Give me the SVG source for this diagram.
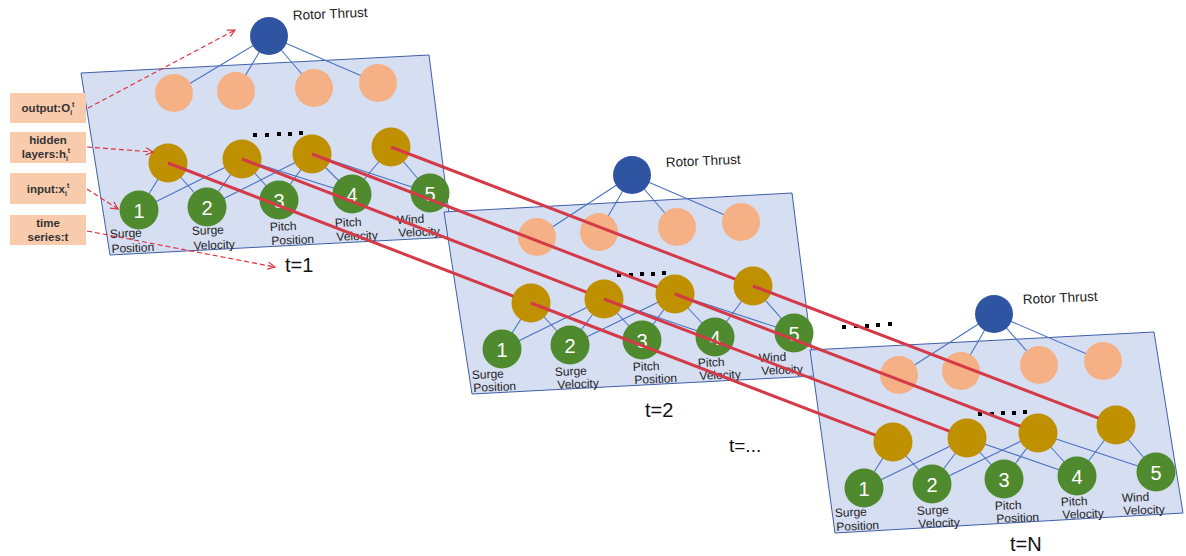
<svg xmlns="http://www.w3.org/2000/svg" width="1186" height="556" viewBox="0 0 1186 556">
<style>
.panel{fill:#D6DEF2;stroke:#3F5FA8;stroke-width:1}
.wl{stroke:#4A72C2;stroke-width:1.1;fill:none}
.blue{fill:#2F55A2}
.org{fill:#F5B185}
.gold{fill:#BF9000}
.grn{fill:#4F8A2E}
.num{font-family:"Liberation Sans",Arial,sans-serif;font-size:20px;fill:#fff;text-anchor:middle;dominant-baseline:central}
.lbl{font-family:"Liberation Sans",Arial,sans-serif;font-size:12px;fill:#222}
.rt{font-family:"Liberation Sans",Arial,sans-serif;font-size:13.5px;fill:#222}
.tl{font-family:"Liberation Sans",Arial,sans-serif;font-size:20px;fill:#111}
.box{fill:#F8CBAD}
.bt{font-family:"Liberation Sans",Arial,sans-serif;font-size:11.5px;font-weight:bold;fill:#333;text-anchor:middle}
.red{stroke:#D43A48;stroke-width:3;fill:none}
.dash{stroke:#E0303A;stroke-width:1.2;stroke-dasharray:5 3;fill:none;marker-end:url(#ah)}
.dot{fill:#000}
</style>
<defs>
<marker id="ah" viewBox="0 0 10 10" refX="9" refY="5" markerWidth="9" markerHeight="9" markerUnits="userSpaceOnUse" orient="auto">
<path d="M1,1 L9,5 L1,9" fill="none" stroke="#E0303A" stroke-width="1.3"/>
</marker>
</defs>

<!-- Panel 1 -->
<g id="panel1">
<polygon class="panel" points="81,73 429,55 452,237 110,255"/>
<g class="wl">
<line x1="269" y1="36" x2="174" y2="93"/><line x1="269" y1="36" x2="236" y2="91"/><line x1="269" y1="36" x2="314" y2="88"/><line x1="269" y1="36" x2="378" y2="83"/>
<line x1="168" y1="163" x2="139" y2="210"/><line x1="168" y1="163" x2="207" y2="207"/>
<line x1="139" y1="210" x2="242" y2="159"/><line x1="242" y1="159" x2="207" y2="207"/><line x1="242" y1="159" x2="279" y2="200"/><line x1="242" y1="159" x2="352" y2="194"/>
<line x1="207" y1="207" x2="312" y2="154"/><line x1="312" y1="154" x2="279" y2="200"/><line x1="312" y1="154" x2="352" y2="194"/><line x1="312" y1="154" x2="430" y2="193"/>
<line x1="391" y1="147" x2="352" y2="194"/><line x1="391" y1="147" x2="430" y2="193"/>
</g>
<g id="p1-out"><circle class="blue" cx="269" cy="36" r="19"/><text class="rt" x="293" y="20" transform="rotate(-2.5 293 20)">Rotor Thrust</text></g>
<g id="p1-o1"><circle class="org" cx="174" cy="93" r="19"/></g>
<g id="p1-o2"><circle class="org" cx="236" cy="91" r="19"/></g>
<g id="p1-o3"><circle class="org" cx="314" cy="88" r="19"/></g>
<g id="p1-o4"><circle class="org" cx="378" cy="83" r="19"/></g>
<g id="p1-dots" class="dot"><rect x="253" y="133" width="4" height="4"/><rect x="265" y="133" width="4" height="4"/><rect x="277" y="132" width="4" height="4"/><rect x="288" y="132" width="4" height="4"/><rect x="299" y="131" width="4" height="4"/></g>
<g id="p1-h1"><circle class="gold" cx="168" cy="163" r="19.5"/></g>
<g id="p1-h2"><circle class="gold" cx="242" cy="159" r="19.5"/></g>
<g id="p1-h3"><circle class="gold" cx="312" cy="154" r="19.5"/></g>
<g id="p1-h4"><circle class="gold" cx="391" cy="147" r="19.5"/></g>
<g id="p1-i1"><circle class="grn" cx="139" cy="210" r="19.5"/><text class="num" x="139" y="211">1</text><text class="lbl" transform="rotate(-2.5 110 238)"><tspan x="110" y="238">Surge</tspan><tspan x="111" y="253">Position</tspan></text></g>
<g id="p1-i2"><circle class="grn" cx="207" cy="207" r="19.5"/><text class="num" x="207" y="208">2</text><text class="lbl" transform="rotate(-2.5 192 235)"><tspan x="192" y="235">Surge</tspan><tspan x="193" y="250">Velocity</tspan></text></g>
<g id="p1-i3"><circle class="grn" cx="279" cy="200" r="19.5"/><text class="num" x="279" y="201">3</text><text class="lbl" transform="rotate(-2.5 270 231)"><tspan x="270" y="231">Pitch</tspan><tspan x="271" y="245">Position</tspan></text></g>
<g id="p1-i4"><circle class="grn" cx="352" cy="194" r="19.5"/><text class="num" x="352" y="195">4</text><text class="lbl" transform="rotate(-2.5 335 227)"><tspan x="335" y="227">Pitch</tspan><tspan x="336" y="241">Velocity</tspan></text></g>
<g id="p1-i5"><circle class="grn" cx="430" cy="193" r="19.5"/><text class="num" x="430" y="194">5</text><text class="lbl" transform="rotate(-2.5 397 224)"><tspan x="397" y="224">Wind</tspan><tspan x="398" y="237">Velocity</tspan></text></g>
<text id="t1" class="tl" x="285" y="272">t=1</text>
</g>

<!-- Panel 2 -->
<g id="panel2">
<polygon class="panel" points="444,212 792,193 815,376 472,394"/>
<g class="wl">
<line x1="632" y1="175" x2="537" y2="237"/><line x1="632" y1="175" x2="599" y2="232"/><line x1="632" y1="175" x2="677" y2="227"/><line x1="632" y1="175" x2="741" y2="222"/>
<line x1="531" y1="303" x2="502" y2="349"/><line x1="531" y1="303" x2="570" y2="345"/>
<line x1="502" y1="349" x2="604" y2="299"/><line x1="604" y1="299" x2="570" y2="345"/><line x1="604" y1="299" x2="642" y2="340"/><line x1="604" y1="299" x2="715" y2="337"/>
<line x1="570" y1="345" x2="675" y2="294"/><line x1="675" y1="294" x2="642" y2="340"/><line x1="675" y1="294" x2="715" y2="337"/><line x1="675" y1="294" x2="794" y2="333"/>
<line x1="753" y1="286" x2="715" y2="337"/><line x1="753" y1="286" x2="794" y2="333"/>
</g>
<g id="p2-out"><circle class="blue" cx="632" cy="175" r="19"/><text class="rt" x="666" y="167" transform="rotate(-2.5 666 167)">Rotor Thrust</text></g>
<g id="p2-o1"><circle class="org" cx="537" cy="237" r="19"/></g>
<g id="p2-o2"><circle class="org" cx="599" cy="232" r="19"/></g>
<g id="p2-o3"><circle class="org" cx="677" cy="227" r="19"/></g>
<g id="p2-o4"><circle class="org" cx="741" cy="222" r="19"/></g>
<g id="p2-dots" class="dot"><rect x="617" y="273" width="4" height="4"/><rect x="629" y="273" width="4" height="4"/><rect x="640" y="272" width="4" height="4"/><rect x="651" y="272" width="4" height="4"/><rect x="662" y="271" width="4" height="4"/></g>
<g id="p2-h1"><circle class="gold" cx="531" cy="303" r="19.5"/></g>
<g id="p2-h2"><circle class="gold" cx="604" cy="299" r="19.5"/></g>
<g id="p2-h3"><circle class="gold" cx="675" cy="294" r="19.5"/></g>
<g id="p2-h4"><circle class="gold" cx="753" cy="286" r="19.5"/></g>
<g id="p2-i1"><circle class="grn" cx="502" cy="349" r="19.5"/><text class="num" x="502" y="350">1</text><text class="lbl" transform="rotate(-2.5 472 379)"><tspan x="472" y="379">Surge</tspan><tspan x="473" y="392">Position</tspan></text></g>
<g id="p2-i2"><circle class="grn" cx="570" cy="345" r="19.5"/><text class="num" x="570" y="346">2</text><text class="lbl" transform="rotate(-2.5 555 376)"><tspan x="555" y="376">Surge</tspan><tspan x="557" y="389">Velocity</tspan></text></g>
<g id="p2-i3"><circle class="grn" cx="642" cy="340" r="19.5"/><text class="num" x="642" y="341">3</text><text class="lbl" transform="rotate(-2.5 633 371)"><tspan x="633" y="371">Pitch</tspan><tspan x="634" y="384">Position</tspan></text></g>
<g id="p2-i4"><circle class="grn" cx="715" cy="337" r="19.5"/><text class="num" x="715" y="338">4</text><text class="lbl" transform="rotate(-2.5 698 367)"><tspan x="698" y="367">Pitch</tspan><tspan x="699" y="380">Velocity</tspan></text></g>
<g id="p2-i5"><circle class="grn" cx="794" cy="333" r="19.5"/><text class="num" x="794" y="334">5</text><text class="lbl" transform="rotate(-2.5 759 362)"><tspan x="759" y="362">Wind</tspan><tspan x="761" y="375">Velocity</tspan></text></g>
<text id="t2" class="tl" x="645" y="417">t=2</text>
</g>

<text id="tdots" class="tl" x="729" y="452" style="font-size:19px">t=...</text>
<g id="gap-dots" class="dot"><rect x="842" y="325" width="4" height="4"/><rect x="854" y="324" width="4" height="4"/><rect x="865" y="324" width="4" height="4"/><rect x="876" y="323" width="4" height="4"/><rect x="888" y="322" width="4" height="4"/></g>

<!-- Panel 3 -->
<g id="panel3">
<polygon class="panel" points="810,350 1154,332 1183,513 835,533"/>
<g class="wl">
<line x1="994" y1="314" x2="899" y2="375"/><line x1="994" y1="314" x2="961" y2="371"/><line x1="994" y1="314" x2="1039" y2="365"/><line x1="994" y1="314" x2="1103" y2="361"/>
<line x1="893" y1="442" x2="864" y2="488"/><line x1="893" y1="442" x2="932" y2="484"/>
<line x1="864" y1="488" x2="967" y2="438"/><line x1="967" y1="438" x2="932" y2="484"/><line x1="967" y1="438" x2="1004" y2="479"/><line x1="967" y1="438" x2="1077" y2="476"/>
<line x1="932" y1="484" x2="1038" y2="433"/><line x1="1038" y1="433" x2="1004" y2="479"/><line x1="1038" y1="433" x2="1077" y2="476"/><line x1="1038" y1="433" x2="1156" y2="472"/>
<line x1="1116" y1="425" x2="1077" y2="476"/><line x1="1116" y1="425" x2="1156" y2="472"/>
</g>
<g id="p3-out"><circle class="blue" cx="994" cy="314" r="19"/><text class="rt" x="1023" y="304" transform="rotate(-2.5 1023 304)">Rotor Thrust</text></g>
<g id="p3-o1"><circle class="org" cx="899" cy="375" r="19"/></g>
<g id="p3-o2"><circle class="org" cx="961" cy="371" r="19"/></g>
<g id="p3-o3"><circle class="org" cx="1039" cy="365" r="19"/></g>
<g id="p3-o4"><circle class="org" cx="1103" cy="361" r="19"/></g>
<g id="p3-dots" class="dot"><rect x="978" y="412" width="4" height="4"/><rect x="990" y="412" width="4" height="4"/><rect x="1001" y="411" width="4" height="4"/><rect x="1012" y="411" width="4" height="4"/><rect x="1023" y="410" width="4" height="4"/></g>
<g id="p3-h1"><circle class="gold" cx="893" cy="442" r="19.5"/></g>
<g id="p3-h2"><circle class="gold" cx="967" cy="438" r="19.5"/></g>
<g id="p3-h3"><circle class="gold" cx="1038" cy="433" r="19.5"/></g>
<g id="p3-h4"><circle class="gold" cx="1116" cy="425" r="19.5"/></g>
<g id="p3-i1"><circle class="grn" cx="864" cy="488" r="19.5"/><text class="num" x="864" y="489">1</text><text class="lbl" transform="rotate(-2.5 835 517)"><tspan x="835" y="517">Surge</tspan><tspan x="836" y="531">Position</tspan></text></g>
<g id="p3-i2"><circle class="grn" cx="932" cy="484" r="19.5"/><text class="num" x="932" y="485">2</text><text class="lbl" transform="rotate(-2.5 917 515)"><tspan x="917" y="515">Surge</tspan><tspan x="918" y="528">Velocity</tspan></text></g>
<g id="p3-i3"><circle class="grn" cx="1004" cy="479" r="19.5"/><text class="num" x="1004" y="480">3</text><text class="lbl" transform="rotate(-2.5 995 510)"><tspan x="995" y="510">Pitch</tspan><tspan x="996" y="523">Position</tspan></text></g>
<g id="p3-i4"><circle class="grn" cx="1077" cy="476" r="19.5"/><text class="num" x="1077" y="477">4</text><text class="lbl" transform="rotate(-2.5 1061 506)"><tspan x="1061" y="506">Pitch</tspan><tspan x="1062" y="519">Velocity</tspan></text></g>
<g id="p3-i5"><circle class="grn" cx="1156" cy="472" r="19.5"/><text class="num" x="1156" y="473">5</text><text class="lbl" transform="rotate(-2.5 1122 502)"><tspan x="1122" y="502">Wind</tspan><tspan x="1123" y="515">Velocity</tspan></text></g>
<text id="tN" class="tl" x="1010" y="551">t=N</text>
</g>

<!-- Legend boxes -->
<g id="lg-output"><rect class="box" x="10" y="93" width="76" height="30"/><text class="bt" x="48" y="112">output:O<tspan dy="3" font-size="7">i</tspan><tspan dy="-8" font-size="7">t</tspan></text></g>
<g id="lg-hidden"><rect class="box" x="10" y="132" width="76" height="31"/><text class="bt"><tspan x="48" y="144">hidden</tspan><tspan x="46" y="158">layers:h</tspan><tspan dy="3" font-size="7">i</tspan><tspan dy="-8" font-size="7">t</tspan></text></g>
<g id="lg-input"><rect class="box" x="10" y="173" width="76" height="31"/><text class="bt" x="48" y="193">input:x<tspan dy="3" font-size="7">i</tspan><tspan dy="-8" font-size="7">t</tspan></text></g>
<g id="lg-time"><rect class="box" x="10" y="215" width="76" height="30"/><text class="bt"><tspan x="48" y="227">time</tspan><tspan x="48" y="241">series:t</tspan></text></g>

<!-- Connectors -->
<g id="connectors">
<g id="pointers">
<line class="dash" x1="88" y1="108" x2="235" y2="30"/>
<line class="dash" x1="87" y1="147" x2="153" y2="152"/>
<line class="dash" x1="87" y1="189" x2="118" y2="209"/>
<line class="dash" x1="87" y1="231" x2="275" y2="267"/>
</g>
<g id="time-links" class="red">
<line x1="168" y1="163" x2="513.3" y2="296.2"/>
<line x1="242" y1="159" x2="586.3" y2="292.2"/>
<line x1="312" y1="154" x2="657.3" y2="287.2"/>
<line x1="391" y1="147" x2="735.3" y2="279.2"/>
<line x1="531" y1="303" x2="875.3" y2="435.2"/>
<line x1="604" y1="299" x2="949.3" y2="431.2"/>
<line x1="675" y1="294" x2="1020.3" y2="426.2"/>
<line x1="753" y1="286" x2="1098.3" y2="418.2"/>
</g>
</g>
</svg>
